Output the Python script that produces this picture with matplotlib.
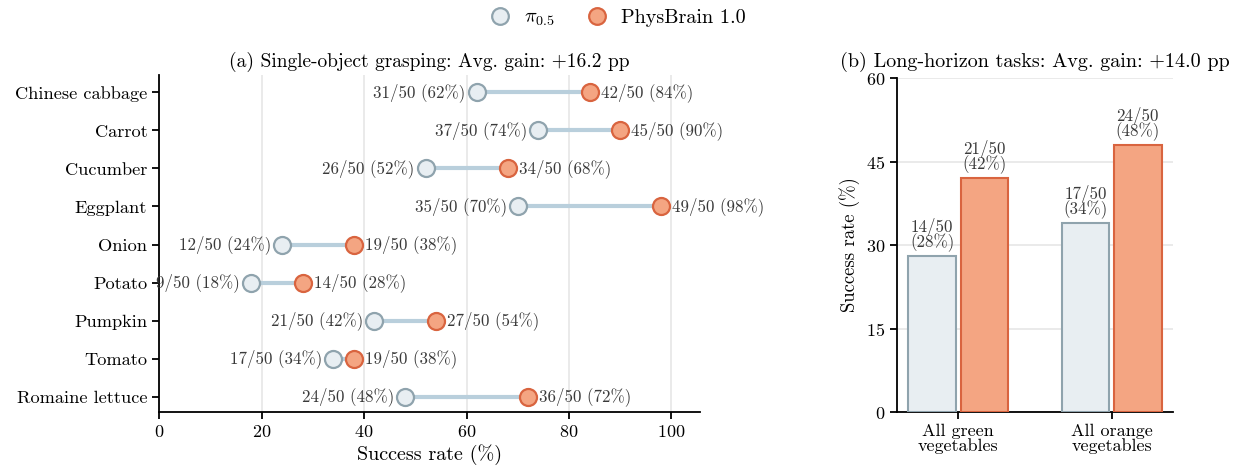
import numpy as np
import matplotlib
matplotlib.use("Agg")
import matplotlib.pyplot as plt
from matplotlib.lines import Line2D

# data
objects = ["Chinese cabbage", "Carrot", "Cucumber", "Eggplant", "Onion",
           "Potato", "Pumpkin", "Tomato", "Romaine lettuce"]
pi_succ = [31, 37, 26, 35, 12, 9, 21, 17, 24]
phys_succ = [42, 45, 34, 49, 19, 14, 27, 19, 36]
n_trials = 50

tasks = ["All green\nvegetables", "All orange\nvegetables"]
pi_long = [14, 17]
phys_long = [21, 24]

plt.rcParams["font.family"] = ["cmr10", "DejaVu Serif"]
plt.rcParams["mathtext.fontset"] = "cm"
plt.rcParams["axes.formatter.use_mathtext"] = True
plt.rcParams["axes.unicode_minus"] = False

pi_face, pi_edge = "#e8eef2", "#8fa3ad"
ph_face, ph_edge = "#f4a582", "#d9643f"
line_col = "#b9cfdc"
txt_col = "#3a3a3a"

fig = plt.figure(figsize=(12.34, 4.70), dpi=100)
ax1 = fig.add_axes([0.1289, 0.1234, 0.4381, 0.7166])
ax2 = fig.add_axes([0.7269, 0.1234, 0.2237, 0.7106])

# (a) dumbbell
pi_pct = np.array(pi_succ) / n_trials * 100
ph_pct = np.array(phys_succ) / n_trials * 100
y = np.arange(len(objects))
for i in range(len(objects)):
    ax1.plot([pi_pct[i], ph_pct[i]], [y[i], y[i]], color=line_col, lw=3, zorder=2)
ax1.scatter(pi_pct, y, s=150, facecolor=pi_face, edgecolor=pi_edge, linewidth=1.6, zorder=3)
ax1.scatter(ph_pct, y, s=150, facecolor=ph_face, edgecolor=ph_edge, linewidth=1.6, zorder=4)
for i in range(len(objects)):
    ax1.annotate(f"{pi_succ[i]}/{n_trials} ({pi_pct[i]:.0f}%)", (pi_pct[i], y[i]),
                 xytext=(-8, 0), textcoords="offset points", ha="right", va="center",
                 fontsize=12.2, color=txt_col)
    ax1.annotate(f"{phys_succ[i]}/{n_trials} ({ph_pct[i]:.0f}%)", (ph_pct[i], y[i]),
                 xytext=(8, 0), textcoords="offset points", ha="left", va="center",
                 fontsize=12.2, color=txt_col)
ax1.set_yticks(y)
ax1.set_yticklabels(objects, fontsize=13.2)
ax1.set_ylim(8.4, -0.45)
ax1.set_xlim(0, 105.5)
ax1.set_xticks([0, 20, 40, 60, 80, 100])
ax1.tick_params(axis="x", labelsize=13)
ax1.set_xlabel("Success rate (%)", fontsize=14.5, labelpad=3)
ax1.grid(axis="x", color="#e6e6e6", lw=1.2, zorder=0)
ax1.set_axisbelow(True)
gain_a = np.mean(ph_pct - pi_pct)
ax1.set_title(f"(a) Single-object grasping: Avg. gain: +{gain_a:.1f} pp", fontsize=14, pad=6)

# (b) bars
pl = np.array(pi_long) / n_trials * 100
phl = np.array(phys_long) / n_trials * 100
x = np.arange(len(tasks))
w = 0.31
ax2.bar(x - 0.17, pl, w, color=pi_face, edgecolor=pi_edge, linewidth=1.5, zorder=3)
ax2.bar(x + 0.17, phl, w, color=ph_face, edgecolor=ph_edge, linewidth=1.5, zorder=3)
for i in range(len(tasks)):
    ax2.annotate(f"{pi_long[i]}/{n_trials}\n({pl[i]:.0f}%)", (x[i] - 0.17, pl[i]),
                 xytext=(0, 3), textcoords="offset points", ha="center", va="bottom",
                 fontsize=12.2, color=txt_col, linespacing=0.8)
    ax2.annotate(f"{phys_long[i]}/{n_trials}\n({phl[i]:.0f}%)", (x[i] + 0.17, phl[i]),
                 xytext=(0, 3), textcoords="offset points", ha="center", va="bottom",
                 fontsize=12.2, color=txt_col, linespacing=0.8)
ax2.set_xticks(x)
ax2.set_xticklabels(tasks, fontsize=13, linespacing=0.9)
ax2.set_xlim(-0.4, 1.4)
ax2.set_ylim(0, 60)
ax2.set_yticks([0, 15, 30, 45, 60])
ax2.tick_params(axis="y", labelsize=13)
ax2.set_ylabel("Success rate (%)", fontsize=13.5)
ax2.grid(axis="y", color="#e6e6e6", lw=1.2, zorder=0)
ax2.set_axisbelow(True)
gain_b = np.mean(phl - pl)
ax2.set_title(f"(b) Long-horizon tasks: Avg. gain: +{gain_b:.1f} pp", fontsize=14.5, pad=8)

for ax in (ax1, ax2):
    ax.spines["top"].set_visible(False)
    ax.spines["right"].set_visible(False)
    ax.spines["left"].set_linewidth(1.3)
    ax.spines["bottom"].set_linewidth(1.3)
    ax.tick_params(length=5, width=1.3)

handles = [
    Line2D([], [], marker="o", ls="none", ms=12, mfc=pi_face, mec=pi_edge, mew=1.6),
    Line2D([], [], marker="o", ls="none", ms=12, mfc=ph_face, mec=ph_edge, mew=1.6),
]
fig.legend(handles, [r"$\pi_{0.5}$", "PhysBrain 1.0"], loc="upper center",
           bbox_to_anchor=(0.5, 1.02), ncol=2, frameon=False, fontsize=14.5,
           handlelength=1.2, handletextpad=0.6, columnspacing=1.5)

fig.savefig("out.png", dpi=100)
